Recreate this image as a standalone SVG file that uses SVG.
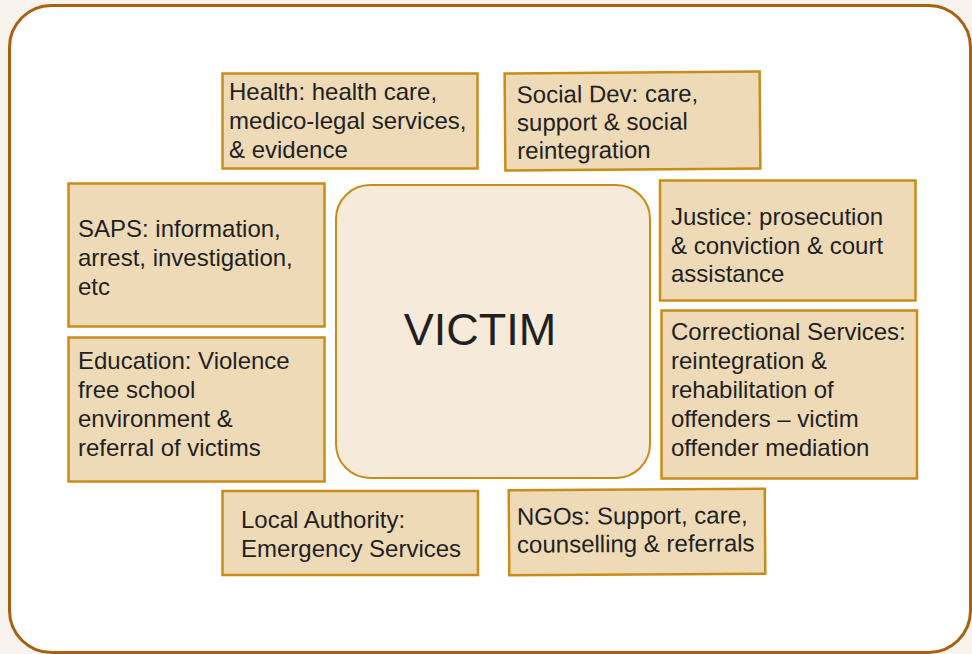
<svg xmlns="http://www.w3.org/2000/svg" width="972" height="654" viewBox="0 0 972 654">
<style>
.bg{fill:#f8f4ed}
.frame{fill:#ffffff;stroke:#a8600f;stroke-width:3}
.box{fill:#eedab7;stroke:#c98c17;stroke-width:2.5}
.center{fill:#f6ebda;stroke:#c98c17;stroke-width:2}
text{font-family:"Liberation Sans",Arial,sans-serif;font-size:24px;fill:#231f20}
.big{font-size:45px;text-anchor:middle}
</style>
<rect class="bg" x="0" y="0" width="972" height="654"/>
<rect class="frame" x="9.5" y="5.5" width="961" height="647" rx="42" ry="42"/>
<g id="connectors"></g>
<g id="victim">
<rect class="center" x="336" y="185" width="314" height="293" rx="34" ry="34"/>
<text class="big" x="480" y="345">VICTIM</text>
</g>
<g id="health">
<rect class="box" x="222.5" y="73.5" width="255" height="95"/>
<text x="229" y="100">Health: health care,</text>
<text x="229" y="129">medico-legal services,</text>
<text x="229" y="158">&amp; evidence</text>
</g>
<g id="socialdev" transform="rotate(-0.45 632 121)">
<rect class="box" x="505" y="72.5" width="255" height="97"/>
<text x="517" y="102">Social Dev: care,</text>
<text x="517" y="130">support &amp; social</text>
<text x="517" y="158">reintegration</text>
</g>
<g id="saps">
<rect class="box" x="68.5" y="183.5" width="256" height="143"/>
<text x="78" y="237">SAPS: information,</text>
<text x="78" y="266">arrest, investigation,</text>
<text x="78" y="295">etc</text>
</g>
<g id="education">
<rect class="box" x="68.5" y="337.5" width="256" height="144"/>
<text x="78" y="369">Education: Violence</text>
<text x="78" y="398">free school</text>
<text x="78" y="427">environment &amp;</text>
<text x="78" y="456">referral of victims</text>
</g>
<g id="justice">
<rect class="box" x="660" y="180.5" width="255.5" height="120"/>
<text x="671" y="225">Justice: prosecution</text>
<text x="671" y="254">&amp; conviction &amp; court</text>
<text x="671" y="282">assistance</text>
</g>
<g id="correctional">
<rect class="box" x="661.5" y="310.5" width="255.5" height="168"/>
<text x="671" y="340">Correctional Services:</text>
<text x="671" y="369">reintegration &amp;</text>
<text x="671" y="398">rehabilitation of</text>
<text x="671" y="427">offenders – victim</text>
<text x="671" y="456">offender mediation</text>
</g>
<g id="localauthority">
<rect class="box" x="222.5" y="491" width="255.5" height="84"/>
<text x="241" y="528">Local Authority:</text>
<text x="241" y="557">Emergency Services</text>
</g>
<g id="ngos" transform="rotate(-0.35 637 532)">
<rect class="box" x="509" y="489.5" width="256" height="85"/>
<text x="517" y="524">NGOs: Support, care,</text>
<text x="517" y="552">counselling &amp; referrals</text>
</g>
</svg>
